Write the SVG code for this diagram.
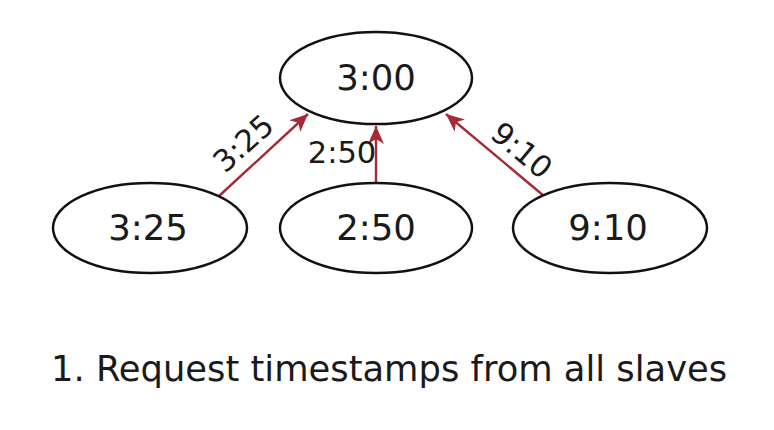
<svg xmlns="http://www.w3.org/2000/svg" width="774" height="430" viewBox="0 0 774 430">
  <defs>
    <style>
      .node ellipse { fill: #ffffff; stroke: #111111; stroke-width: 2.5; }
      .node text { font-family: "DejaVu Sans", Verdana, sans-serif; font-size: 35.5px; fill: #1a1a1a; text-anchor: middle; }
      .edge { stroke: #a52a35; stroke-width: 2.4; fill: none; marker-end: url(#arrow); }
      .elabel { font-family: "DejaVu Sans", Verdana, sans-serif; font-size: 30.5px; fill: #1a1a1a; text-anchor: middle; }
      .caption { font-family: "DejaVu Sans", Verdana, sans-serif; font-size: 35.3px; fill: #1a1a1a; }
    </style>
    <marker id="arrow" markerUnits="userSpaceOnUse" markerWidth="20" markerHeight="18" refX="18" refY="8" orient="auto">
      <path d="M0,0 L18,8 L0,16 L5,8 Z" fill="#a52a35"/>
    </marker>
  </defs>
  <rect width="774" height="430" fill="#ffffff"/>

  <g id="connectors">
    <line class="edge" x1="218" y1="197" x2="308" y2="114"/>
    <line class="edge" x1="376" y1="183" x2="376" y2="126"/>
    <line class="edge" x1="544" y1="196" x2="446" y2="114"/>
    <text class="elabel" transform="translate(243,143) rotate(-42)" y="11">3:25</text>
    <text class="elabel" x="342" y="163">2:50</text>
    <text class="elabel" transform="translate(522,150) rotate(40)" y="11">9:10</text>
  </g>

  <g id="node-master" class="node">
    <ellipse cx="376" cy="78" rx="96" ry="46"/>
    <text x="376" y="90">3:00</text>
  </g>
  <g id="node-slave1" class="node">
    <ellipse cx="150" cy="228" rx="97" ry="45"/>
    <text x="148" y="240">3:25</text>
  </g>
  <g id="node-slave2" class="node">
    <ellipse cx="376" cy="228" rx="96" ry="45"/>
    <text x="376" y="240">2:50</text>
  </g>
  <g id="node-slave3" class="node">
    <ellipse cx="610" cy="228" rx="97" ry="45"/>
    <text x="608" y="240">9:10</text>
  </g>

  <text class="caption" x="51" y="381">1. Request timestamps from all slaves</text>
</svg>
